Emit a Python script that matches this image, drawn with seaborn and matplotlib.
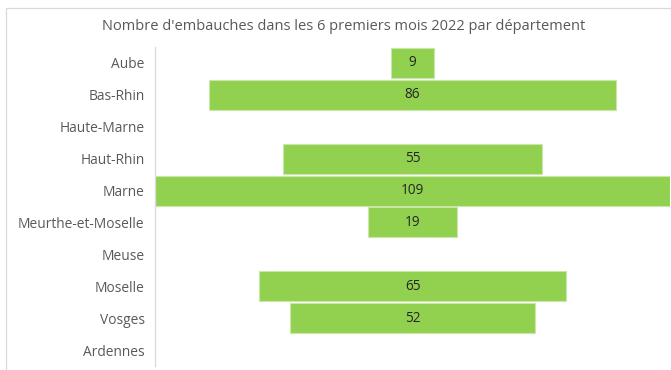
import matplotlib
matplotlib.use("Agg")
import matplotlib.pyplot as plt
import seaborn as sns
import pandas as pd
from matplotlib.patches import Rectangle

departements = ["Aube", "Bas-Rhin", "Haute-Marne", "Haut-Rhin", "Marne",
                "Meurthe-et-Moselle", "Meuse", "Moselle", "Vosges", "Ardennes"]
embauches = [9, 86, 0, 55, 109, 19, 0, 65, 52, 0]
titre = "Nombre d'embauches dans les 6 premiers mois 2022 par département"

sns.set_theme(style="white")
plt.rcParams["font.family"] = ["Open Sans", "DejaVu Sans"]

df = pd.DataFrame({"dep": departements, "n": embauches})

fig = plt.figure(figsize=(6.71, 3.70), dpi=100)
ax = fig.add_axes([155 / 671, 1 - 366 / 370, 515 / 671, 319 / 370])

sns.barplot(data=df, y="dep", x="n", orient="h", color="#92D050",
            saturation=1, width=0.94, edgecolor="#C9E8A6", linewidth=0.8, ax=ax)

# centre each bar on zero so the chart reads like a funnel
for patch, v in zip(ax.patches, embauches):
    patch.set_x(-v / 2)
    patch.set_width(v)
    if v > 0:
        ax.text(0, patch.get_y() + patch.get_height() / 2, str(v),
                ha="center", va="center", fontsize=9.8, color="#262626")
    else:
        patch.set_visible(False)

half = max(embauches) / 2
ax.set_xlim(-half, half)
ax.set_xticks([])
ax.set_xlabel("")
ax.set_ylabel("")
ax.tick_params(axis="y", length=0, pad=7.5, labelsize=9.9, labelcolor="#595959")
for s in ["top", "right", "bottom"]:
    ax.spines[s].set_visible(False)
ax.spines["left"].set_color("#D9D9D9")
ax.spines["left"].set_linewidth(0.9)

fig.text(344 / 671, 1 - 27 / 370, titre,
         ha="center", va="center", fontsize=10.5, color="#595959")

fig.patches.append(Rectangle((6 / 671, -0.1), 1.2, 1 - 8 / 370 + 0.1, transform=fig.transFigure,
                             fill=False, edgecolor="#D9D9D9", linewidth=0.9, zorder=0))

fig.savefig("out.png", dpi=100)
